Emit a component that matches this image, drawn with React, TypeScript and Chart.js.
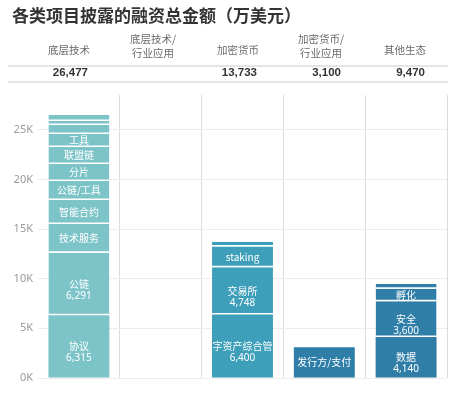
import React, { useEffect, useRef } from 'react';
import { Chart, registerables } from 'chart.js';

Chart.register(...registerables);

const title = '各类项目披露的融资总金额（万美元）';
const categories = ['底层技术', '底层技术/行业应用', '加密货币', '加密货币/行业应用', '其他生态'];
const headerLines = [['底层技术'], ['底层技术/', '行业应用'], ['加密货币'], ['加密货币/', '行业应用'], ['其他生态']];
const totalLabels = ['26,477', '', '13,733', '3,100', '9,470'];

const infraNames = ['协议', '公链', '技术服务', '智能合约', '公链/工具', '分片', '联盟链', '工具', '', '', ''];
const infraValues = [6315, 6291, 2900, 2420, 1920, 1710, 1710, 1310, 900, 400, 601];
const infraAppNames: string[] = [];
const infraAppValues: number[] = [];
const cryptoNames = ['数字资产综合管理', '交易所', 'staking', ''];
const cryptoValues = [6400, 4748, 2100, 485];
const cryptoAppNames = ['发行方/支付'];
const cryptoAppValues = [3100];
const otherNames = ['数据', '安全', '孵化', ''];
const otherValues = [4140, 3600, 1250, 480];

const yTicks = [0, 5000, 10000, 15000, 20000, 25000];
const barColors = ['#7dc4c9', '#7dc4c9', '#3d9fb9', '#2e7ea8', '#2e7ea8'];

const segmentNames = [infraNames, infraAppNames, cryptoNames, cryptoAppNames, otherNames];
const segmentValues = [infraValues, infraAppValues, cryptoValues, cryptoAppValues, otherValues];

const headerCenters = [69, 153, 238, 321, 405];
const totalRights = [88, 172, 257, 341, 425];

const segmentLabels = {
  id: 'segmentLabels',
  afterDatasetsDraw(chart: any) {
    const ctx = chart.ctx;
    chart.data.datasets.forEach((_ds: any, di: number) => {
      const meta = chart.getDatasetMeta(di);
      meta.data.forEach((bar: any, ci: number) => {
        const name = segmentNames[ci][di];
        const v = segmentValues[ci][di];
        if (!name || v == null) return;
        const { x, y, base, width } = bar.getProps(['x', 'y', 'base', 'width'], true);
        const top = Math.min(y, base);
        const bottom = Math.max(y, base);
        const cy = (top + bottom) / 2;
        ctx.save();
        ctx.beginPath();
        ctx.rect(x - width / 2, top, width, bottom - top);
        ctx.clip();
        ctx.fillStyle = '#ffffff';
        ctx.textAlign = 'center';
        ctx.textBaseline = 'middle';
        ctx.font = '10px "Noto Sans CJK SC", "Noto Sans", sans-serif';
        ctx.fillText(name, x, cy);
        if (v >= 3500) {
          ctx.font = '10px "Noto Sans", sans-serif';
          ctx.fillText(v.toLocaleString('en-US'), x, cy + 12);
        }
        ctx.restore();
      });
    });
  },
};

export default function App() {
  const canvasRef = useRef<HTMLCanvasElement | null>(null);

  useEffect(() => {
    if (!canvasRef.current) return;
    const n = Math.max(...segmentValues.map((s) => s.length));
    const datasets = [] as any[];
    for (let i = 0; i < n; i++) {
      datasets.push({
        label: 'seg' + i,
        data: categories.map((_c, ci) => (segmentValues[ci][i] ?? null)),
        backgroundColor: barColors,
        borderColor: '#ffffff',
        borderSkipped: false,
        borderWidth: (ctx: any) => ({ top: 0, left: 0, right: 0, bottom: ctx.datasetIndex === 0 ? 0 : 1.5 }),
      });
    }
    const chart = new Chart(canvasRef.current, {
      type: 'bar',
      data: { labels: categories, datasets },
      plugins: [segmentLabels],
      options: {
        animation: false,
        responsive: false,
        maintainAspectRatio: false,
        layout: { padding: { top: 95, bottom: 15, left: 0, right: 5 } },
        datasets: { bar: { barPercentage: 0.745, categoryPercentage: 1 } },
        plugins: { legend: { display: false }, tooltip: { enabled: false }, title: { display: false } },
        scales: {
          x: {
            stacked: true,
            offset: true,
            grid: {
              offset: true,
              drawTicks: false,
              color: (ctx: any) => (ctx.index === 0 ? 'rgba(0,0,0,0)' : '#dcdcdc'),
            },
            border: { display: false },
            ticks: { display: false },
            afterFit: (s: any) => {
              s.height = 0;
            },
          },
          y: {
            stacked: true,
            min: 0,
            max: 28500,
            afterBuildTicks: (axis: any) => {
              axis.ticks = yTicks.map((v) => ({ value: v }));
            },
            ticks: {
              callback: (v: any) => Number(v) / 1000 + 'K',
              color: '#9a9a9a',
              font: { family: '"Noto Sans", sans-serif', size: 11 },
              padding: 5,
            },
            grid: { drawTicks: false, color: '#ededed' },
            border: { display: false },
            afterFit: (s: any) => {
              s.width = 38;
            },
          },
        },
      } as any,
    });
    return () => chart.destroy();
  }, []);

  return (
    <div style={{ position: 'absolute', left: 0, top: 0, width: 452, height: 393, background: '#fff', overflow: 'hidden' }}>
      <canvas ref={canvasRef} width={452} height={393} style={{ position: 'absolute', left: 0, top: 0, width: 452, height: 393 }} />
      <div
        style={{
          position: 'absolute',
          left: 12,
          top: 5,
          fontFamily: '"Noto Sans CJK SC", sans-serif',
          fontWeight: 700,
          fontSize: 17,
          lineHeight: '20px',
          color: '#333',
          whiteSpace: 'nowrap',
        }}
      >
        {title}
      </div>
      {headerLines.map((lines, i) =>
        lines.map((line, j) => {
          const cy = lines.length === 1 ? 50 : j === 0 ? 39 : 53;
          return (
            <div
              key={'h' + i + '-' + j}
              style={{
                position: 'absolute',
                left: headerCenters[i],
                top: cy,
                transform: 'translate(-50%, -50%)',
                fontFamily: '"Noto Sans CJK SC", sans-serif',
                fontSize: 10.5,
                lineHeight: 1,
                color: '#6a6a6a',
                whiteSpace: 'nowrap',
              }}
            >
              {line}
            </div>
          );
        })
      )}
      <div style={{ position: 'absolute', left: 8, top: 65, width: 440, height: 2, background: '#e4e4e4' }} />
      {totalLabels.map((t, i) =>
        t ? (
          <div
            key={'t' + i}
            style={{
              position: 'absolute',
              left: totalRights[i],
              top: 73,
              transform: 'translate(-100%, -50%)',
              fontFamily: '"Liberation Sans", Arial, sans-serif',
              fontWeight: 700,
              fontSize: 11.5,
              lineHeight: 1,
              color: '#333',
              whiteSpace: 'nowrap',
            }}
          >
            {t}
          </div>
        ) : null
      )}
      <div style={{ position: 'absolute', left: 8, top: 81, width: 440, height: 2, background: '#e4e4e4' }} />
    </div>
  );
}
